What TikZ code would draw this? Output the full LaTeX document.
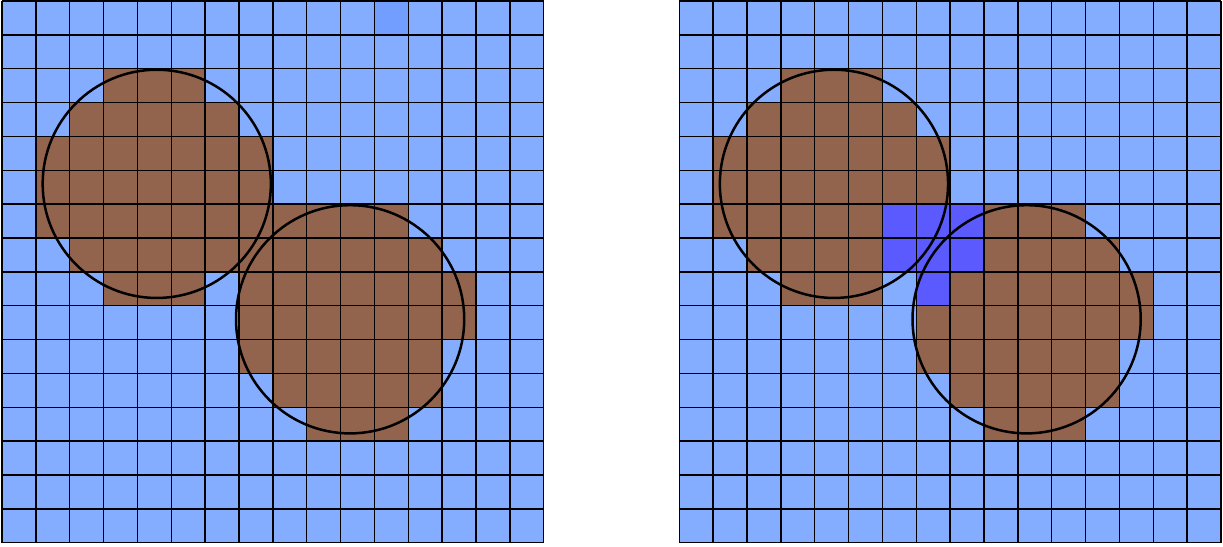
\documentclass[tikz,border=0pt]{standalone}
\definecolor{water}{RGB}{133,173,255}
\definecolor{soil}{RGB}{147,100,77}
\definecolor{probe}{RGB}{113,158,255}
\definecolor{overlap}{RGB}{90,90,255}
\tikzset{
  gridline/.style = {draw=black, line width=1.2pt},
  particle/.style = {draw=black, line width=2.1pt},
  water/.append style = {fill = water},
  soil/.append style = {fill = soil},
  probe/.append style = {fill = probe},
  overlap/.append style = {fill = overlap}
}
% row/first column/last column, rows counted from the top
\newcommand{\soilleft}{2/3/5, 3/2/6, 4/1/7, 5/1/7, 6/1/11, 7/2/12,
  8/3/5, 8/7/13, 9/7/13, 10/7/12, 11/8/12, 12/9/11}
\newcommand{\soilright}{2/3/5, 3/2/6, 4/1/7, 5/1/7, 6/1/5, 6/9/11,
  7/2/5, 7/9/12, 8/3/5, 8/8/13, 9/7/13, 10/7/12, 11/8/12, 12/9/11}
\newcommand{\overlapright}{6/6/8, 7/6/8, 8/7/7}

\begin{document}
\begin{tikzpicture}
\useasboundingbox (-0.06,-0.12) rectangle (36.06,16.03);

% left panel
\begin{scope}
  \fill[water] (0,0) rectangle (16,16);
  \foreach \r/\a/\b in \soilleft
    \fill[soil] (\a,15-\r) rectangle (\b+1,16-\r);
  \fill[probe] (11,15) rectangle (12,16);
  \draw[gridline] (0,0) grid (16,16);
  \draw[particle] (4.57,10.6) circle (3.37);
  \draw[particle] (10.28,6.6) circle (3.37);
\end{scope}

% right panel
\begin{scope}[xshift=20cm]
  \fill[water] (0,0) rectangle (16,16);
  \foreach \r/\a/\b in \soilright
    \fill[soil] (\a,15-\r) rectangle (\b+1,16-\r);
  \foreach \r/\a/\b in \overlapright
    \fill[overlap] (\a,15-\r) rectangle (\b+1,16-\r);
  \draw[gridline] (0,0) grid (16,16);
  \draw[particle] (4.57,10.6) circle (3.37);
  \draw[particle] (10.26,6.6) circle (3.37);
\end{scope}
\end{tikzpicture}
\end{document}
